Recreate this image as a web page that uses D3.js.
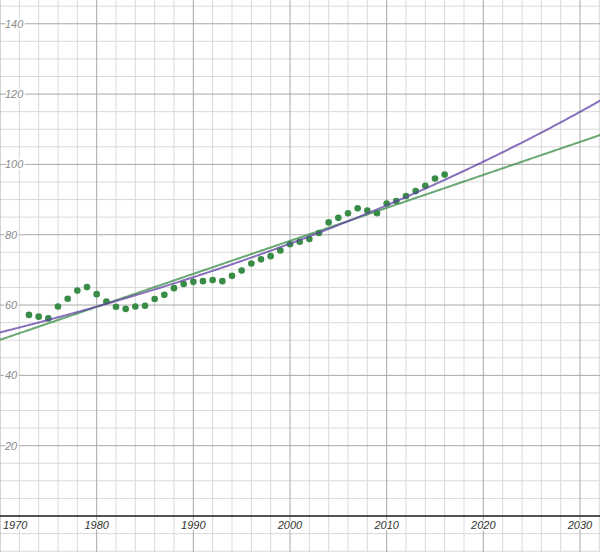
<!DOCTYPE html>
<html>
<head>
<meta charset="utf-8">
<script src="https://cdn.jsdelivr.net/npm/d3@7"></script>
<style>
html,body{margin:0;padding:0;background:#fff;}
svg{display:block;}
</style>
</head>
<body>
<svg id="chart" width="600" height="552"></svg>
<script>
// ---- data ----
const years = [1973,1974,1975,1976,1977,1978,1979,1980,1981,1982,1983,1984,1985,1986,1987,1988,1989,1990,1991,1992,1993,1994,1995,1996,1997,1998,1999,2000,2001,2002,2003,2004,2005,2006,2007,2008,2009,2010,2011,2012,2013,2014,2015,2016];
const values = [57.2,56.7,56.2,59.6,61.8,64.1,65.1,63.1,61.0,59.5,58.9,59.6,59.8,61.7,62.9,64.8,66.0,66.6,66.8,67.1,66.8,68.3,69.8,71.8,73.0,73.9,75.5,77.3,78.0,78.8,80.5,83.5,84.8,86.1,87.5,86.9,86.1,88.9,89.6,91.0,92.4,93.9,96.0,97.1];
const xTickLabels = ["1970","1980","1990","2000","2010","2020","2030"];
const yTickLabels = ["20","40","60","80","100","120","140"];
const fitOrigin = 1970;

const W = 600, H = 552;
const x = d3.scaleLinear().domain([1970, 1970 + 600/9.6667]).range([0, W]);
const y = d3.scaleLinear().domain([-36/3.516, 516/3.516]).range([H, 0]);

const svg = d3.select("#chart");

// ---- grid ----
const gx = svg.append("g");
const [x0, x1] = x.domain(), [y0, y1] = y.domain();
d3.range(Math.ceil(x0/2)*2, x1, 2).filter(v => v % 10 !== 0).forEach(v => {
  gx.append("line").attr("x1", x(v)).attr("x2", x(v)).attr("y1", 0).attr("y2", H)
    .attr("stroke", "#dadada").attr("stroke-width", 1);
});
d3.range(Math.ceil(y0/5)*5, y1, 5).filter(v => v % 20 !== 0).forEach(v => {
  gx.append("line").attr("x1", 0).attr("x2", W).attr("y1", y(v)).attr("y2", y(v))
    .attr("stroke", "#dadada").attr("stroke-width", 1);
});
d3.range(Math.ceil(x0/10)*10, x1, 10).forEach(v => {
  gx.append("line").attr("x1", x(v)).attr("x2", x(v)).attr("y1", 0).attr("y2", H)
    .attr("stroke", "#a8a8a8").attr("stroke-width", 1);
});
d3.range(Math.ceil(y0/20)*20, y1, 20).filter(v => v !== 0).forEach(v => {
  gx.append("line").attr("x1", 0).attr("x2", W).attr("y1", y(v)).attr("y2", y(v))
    .attr("stroke", "#a8a8a8").attr("stroke-width", 1);
});
// x axis line
svg.append("line").attr("x1", 0).attr("x2", W).attr("y1", y(0)).attr("y2", y(0))
  .attr("stroke", "#1a1a1a").attr("stroke-width", 1.6);

// ---- fits ----
const ts = years.map(d => d - fitOrigin);
const mt = d3.mean(ts), mv = d3.mean(values);
const slope = d3.sum(ts, (t, i) => (t - mt) * (values[i] - mv)) / d3.sum(ts, t => (t - mt) ** 2);
const intercept = mv - slope * mt;
// exponential fit y = a*exp(k t), least squares via Gauss-Newton
let lv = values.map(Math.log), mlv = d3.mean(lv);
let k = d3.sum(ts, (t, i) => (t - mt) * (lv[i] - mlv)) / d3.sum(ts, t => (t - mt) ** 2);
let a = Math.exp(mlv - k * mt);
for (let it = 0; it < 50; it++) {
  let A11 = 0, A12 = 0, A22 = 0, b1 = 0, b2 = 0;
  ts.forEach((t, i) => {
    const e = Math.exp(k * t), r = values[i] - a * e;
    const j1 = e, j2 = a * t * e;
    A11 += j1*j1; A12 += j1*j2; A22 += j2*j2; b1 += j1*r; b2 += j2*r;
  });
  const det = A11*A22 - A12*A12;
  a += (A22*b1 - A12*b2) / det;
  k += (A11*b2 - A12*b1) / det;
}

const xs = d3.range(x0, x1 + 0.5, 0.25);
const line = d3.line().x(d => x(d[0])).y(d => y(d[1]));

// ---- dots ----
svg.append("g").selectAll("circle").data(years).join("circle")
  .attr("cx", d => x(d)).attr("cy", (d, i) => y(values[i])).attr("r", 3.3)
  .attr("fill", "#388c46");

svg.append("path").datum(xs.map(v => [v, intercept + slope * (v - fitOrigin)]))
  .attr("d", line).attr("fill", "none").attr("stroke", "#388c46")
  .attr("stroke-width", 2).attr("stroke-opacity", 0.75);
svg.append("path").datum(xs.map(v => [v, a * Math.exp(k * (v - fitOrigin))]))
  .attr("d", line).attr("fill", "none").attr("stroke", "#6042a6")
  .attr("stroke-width", 2).attr("stroke-opacity", 0.75);

// ---- labels ----
const lab = svg.append("g").attr("font-family", "'Liberation Sans', Arial, sans-serif")
  .attr("font-size", 11).attr("font-style", "italic");
xTickLabels.forEach(s => {
  const v = +s;
  const t = lab.append("text").attr("y", y(0) + 12.5).text(s)
    .attr("fill", "#333").attr("stroke", "#fff").attr("stroke-width", 3)
    .attr("paint-order", "stroke").attr("stroke-linejoin", "round");
  const w = t.node().getComputedTextLength();
  let left = x(v) - w / 2;
  if (left < 3) left = 3;
  if (left + w > W - 3) left = W - 3 - w;
  t.attr("x", left);
});
yTickLabels.forEach(s => {
  const v = +s;
  lab.append("text").attr("x", 5).attr("y", y(v) + 4).text(s)
    .attr("fill", "#8a8a8a").attr("stroke", "#fff").attr("stroke-width", 3)
    .attr("paint-order", "stroke").attr("stroke-linejoin", "round");
});
</script>
</body>
</html>
